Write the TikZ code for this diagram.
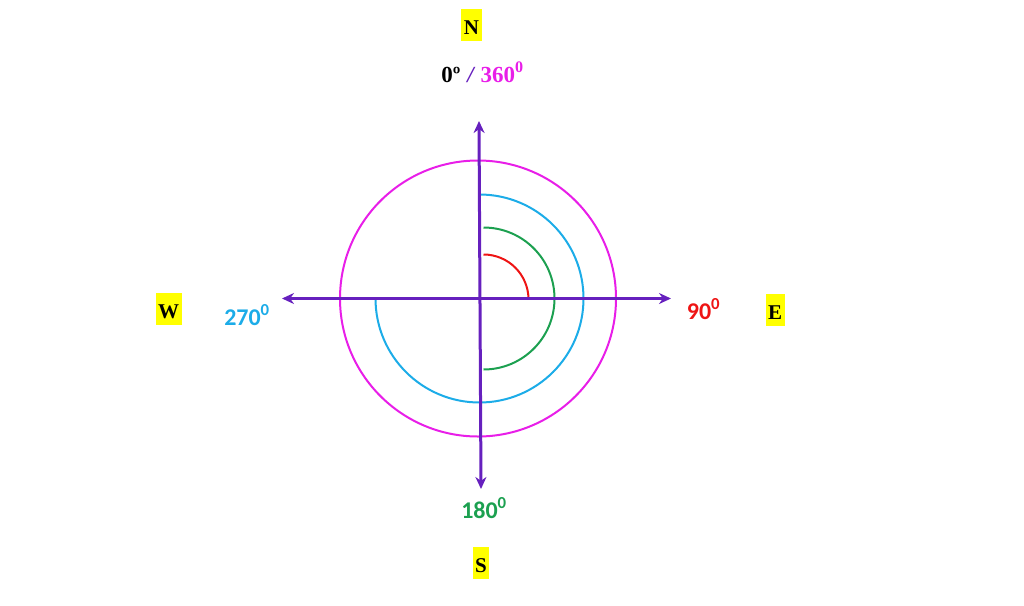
\documentclass[tikz,border=0pt]{standalone}
\usepackage{fontspec}
\setmainfont{Liberation Serif}
\newfontfamily\lblfont{Carlito}
\usetikzlibrary{arrows.meta}
\definecolor{axispurple}{RGB}{102,32,190}
\definecolor{ringmagenta}{RGB}{232,30,232}
\definecolor{arcblue}{RGB}{28,172,232}
\definecolor{arcgreen}{RGB}{28,160,80}
\definecolor{arcred}{RGB}{238,20,20}
\definecolor{hlyellow}{RGB}{255,255,0}
\tikzset{
  dirbox/.style={fill=hlyellow, font=\fontsize{21}{23}\selectfont\bfseries, text height=21pt, text depth=3pt, inner ysep=4pt, inner xsep=2.5pt, anchor=base},
  deglbl/.style={font=\lblfont\fontsize{24}{26}\selectfont\bfseries, inner sep=0pt, anchor=base},
  axisline/.style={draw=axispurple, line width=3pt, {Stealth[length=12pt,width=11pt]}-{Stealth[length=12pt,width=11pt]}},
  arcline/.style={line width=2pt}
}
\begin{document}
\begin{tikzpicture}[x=1pt,y=-1pt]
\useasboundingbox (0,0) rectangle (1024,605);
% centre and axis ends
\coordinate (O) at (479.5,298.5);
\coordinate (top) at (479,121);
\coordinate (bot) at (481,489);
\coordinate (lft) at (282,298.5);
\coordinate (rgt) at (671,298.5);
% outer ring
\draw[ringmagenta, arcline] (O) ++(-1.5,0) circle[radius=138];
% arcs
\draw[arcblue, arcline] (O) ++(0,-104) arc[start angle=-90, end angle=180, radius=104];
\draw[arcgreen, arcline] (O) ++(4,-71) arc[start angle=-90, end angle=90, radius=71];
\draw[arcred, arcline] (O) ++(4,-44) arc[start angle=-90, end angle=0, radius=45];
% axes
\draw[axisline] (bot) -- (top);
\draw[axisline] (lft) -- (rgt);
% labels
\node[dirbox] (N) at (471.5,34) {N};
\node[inner sep=0pt, anchor=base, font=\fontsize{23}{25}\selectfont\bfseries] (zero) at (482.5,82) {0º\hspace{7pt}{\color{axispurple}\textit{/}}\hspace{5pt}{\color{ringmagenta}360\textsuperscript{0}}};
\node[dirbox] (W) at (168.5,318) {W};
\node[deglbl, text=arcblue] (w270) at (247,325) {270\textsuperscript{0}};
\node[deglbl, text=arcred] (e90) at (703.5,319) {90\textsuperscript{0}};
\node[dirbox] (E) at (775,319) {E};
\node[deglbl, text=arcgreen] (s180) at (484,518) {180\textsuperscript{0}};
\node[dirbox] (S) at (481,572) {S};
\end{tikzpicture}
\end{document}
